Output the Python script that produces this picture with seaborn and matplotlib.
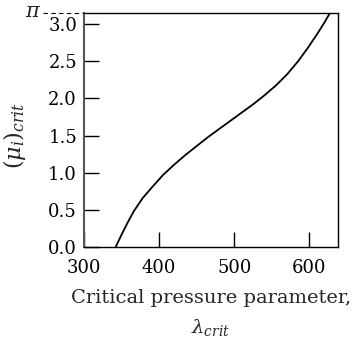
import numpy as np
import pandas as pd
import matplotlib
matplotlib.use("Agg")
import matplotlib.pyplot as plt
import matplotlib.transforms as mtransforms
import seaborn as sns

# Data
lam_crit = [342, 350, 358, 366, 378, 390, 405, 420, 435, 450, 465, 480,
            495, 510, 525, 540, 555, 570, 585, 598, 610, 620, 627]
mu_crit = [0.0, 0.17, 0.33, 0.48, 0.66, 0.80, 0.97, 1.11, 1.24, 1.36, 1.48, 1.59,
           1.70, 1.81, 1.92, 2.04, 2.17, 2.32, 2.50, 2.68, 2.86, 3.02, 3.1416]
x_ticks = [300, 400, 500, 600]
y_ticks = [0.0, 0.5, 1.0, 1.5, 2.0, 2.5, 3.0]

sns.set_theme(style="ticks")
plt.rcParams["font.family"] = ["DejaVu Serif"]
plt.rcParams["mathtext.fontset"] = "dejavuserif"

df = pd.DataFrame({"lam": lam_crit, "mu": mu_crit})

fig = plt.figure(figsize=(3.52, 3.43), dpi=100)
ax = fig.add_axes([0.2386, 0.279, 0.9602 - 0.2386, 0.961 - 0.279])
sns.lineplot(data=df, x="lam", y="mu", color="black", linewidth=1.3, ax=ax, sort=False)

ax.set_xlim(300, 638)
ax.set_ylim(0, np.pi)
ax.set_xticks(x_ticks)
ax.set_xticklabels([str(v) for v in x_ticks])
ax.set_yticks(y_ticks)
ax.set_yticklabels([f"{v:.1f}" for v in y_ticks])
ax.tick_params(axis="both", direction="in", length=11, width=1.0, color="black",
               labelsize=13, labelcolor="black")
ax.tick_params(axis="x", pad=8.5)
ax.tick_params(axis="y", pad=5)
for s in ax.spines.values():
    s.set_color("black")
    s.set_linewidth(1.0)
ax.spines["left"].set_color("#555555")
ax.spines["left"].set_linewidth(1.5)

# pi marker with dashed leader
trans = mtransforms.blended_transform_factory(ax.transAxes, ax.transData)
ax.plot([-0.162, -0.005], [np.pi, np.pi], transform=trans, color="black",
        linestyle=(0, (4, 3)), linewidth=0.8, clip_on=False)
ax.text(-0.17, np.pi + 0.03, r"$\pi$", transform=trans, ha="right", va="center", fontsize=15)

ax.set_xlabel("Critical pressure parameter,\n" + r"$\lambda_{crit}$", fontsize=14,
              linespacing=1.6)
ax.xaxis.set_label_coords(0.5, -0.178)
ax.set_ylabel(r"$(\mu_i)_{crit}$", fontsize=16)
ax.yaxis.set_label_coords(-0.221, 0.476)

fig.savefig("out.png", dpi=100)
